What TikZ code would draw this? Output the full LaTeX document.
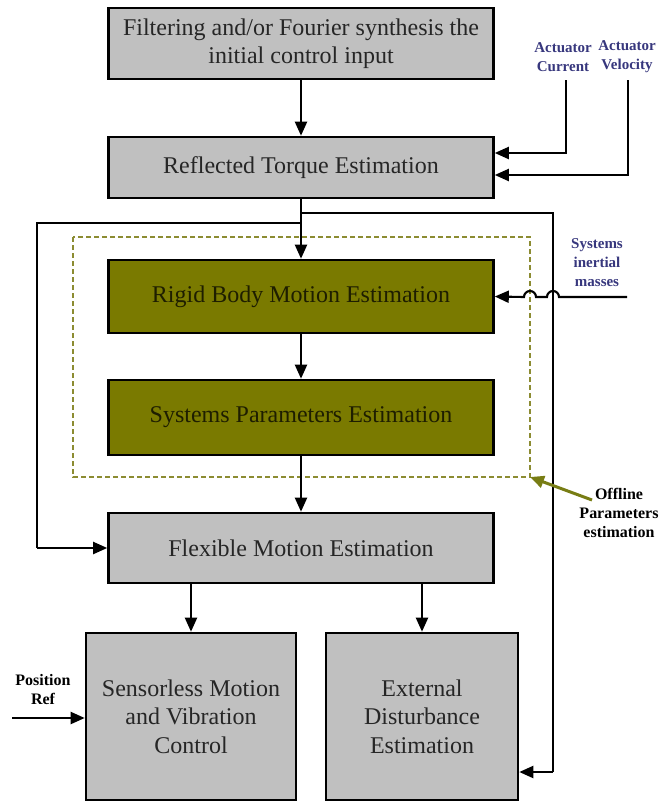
\documentclass[tikz,border=0pt]{standalone}
\usepackage{fontspec}
\setmainfont{Liberation Serif}
\usetikzlibrary{arrows.meta}
\definecolor{boxgray}{RGB}{192,192,192}
\definecolor{boxolive}{RGB}{122,122,0}
\definecolor{dashol}{RGB}{140,140,50}
\definecolor{lblblue}{RGB}{55,55,125}
\definecolor{arrol}{RGB}{120,125,20}
\definecolor{olivetext}{RGB}{30,30,0}
\tikzset{
  graybox/.style={draw=black, line width=2.6pt, fill=boxgray, rectangle, align=center,
    font=\fontsize{24}{28.5}\selectfont, inner sep=0pt, text=black!85},
  olivebox/.style={graybox, fill=boxolive, text=olivetext},
  conn/.style={draw=black, line width=2.1pt},
  arr/.style={conn, -{Triangle[length=14pt,width=12pt]}},
  bluelbl/.style={text=lblblue, font=\bfseries\fontsize{15}{19}\selectfont, align=center, inner sep=0pt},
  blklbl/.style={text=black, font=\bfseries\fontsize{16}{19}\selectfont, align=center, inner sep=0pt},
}
\begin{document}
\begin{tikzpicture}[x=1pt,y=-1pt]
\useasboundingbox (0,0) rectangle (661,801);
% boxes
\node[graybox, minimum width=385pt, minimum height=71pt] (b1) at (301,43.5) {Filtering and/or Fourier synthesis the\\initial control input};
\node[graybox, minimum width=385pt, minimum height=61pt] (b2) at (301,167.5) {Reflected Torque Estimation};
\node[olivebox, minimum width=385pt, minimum height=73pt] (rb) at (301,296.5) {Rigid Body Motion Estimation};
\node[olivebox, minimum width=385pt, minimum height=75pt] (sp) at (301,417.5) {Systems Parameters Estimation};
\node[graybox, minimum width=385pt, minimum height=70pt] (fm) at (301,548) {Flexible Motion Estimation};
\node[graybox, minimum width=210pt, minimum height=167pt] (sl) at (191,716.5) {Sensorless Motion\\and Vibration\\Control};
\node[graybox, minimum width=192pt, minimum height=167pt] (ed) at (422,716.5) {External\\Disturbance\\Estimation};
% dashed offline region
\draw[dashol, line width=2.3pt, dash pattern=on 5pt off 3pt] (73,237) rectangle (530,477);
\coordinate (dc) at (530,477);
% labels
\node[bluelbl] (ac) at (563,57) {Actuator\\Current};
\node[bluelbl] (av) at (627,57) {Actuator\\Velocity};
\node[bluelbl] (im) at (597,263) {Systems\\inertial\\masses};
\node[blklbl] (ol) at (619,513) {Offline\\Parameters\\estimation};
\node[blklbl] (pr) at (43,690) {Position\\Ref};
% coordinates
\coordinate (j1) at (301,213);
\coordinate (j2) at (301,223);
\coordinate (rr) at (553,213);
\coordinate (rrb) at (553,772);
\coordinate (ll) at (37,223);
\coordinate (llb) at (37,548);
\coordinate (acs) at (566,80);
\coordinate (acc) at (566,153);
\coordinate (avs) at (628,80);
\coordinate (avc) at (628,175);
\coordinate (ims) at (627,297);
\coordinate (prs) at (12,718);
\coordinate (ols) at (592,500);
% main flow
\draw[arr] (b1) -- (b2);
\draw[arr] (b2) -- (rb);
\draw[arr] (rb) -- (sp);
\draw[arr] (sp) -- (fm);
\draw[arr] (fm.south -| sl) -- (sl);
\draw[arr] (fm.south -| ed) -- (ed);
% loops
\draw[conn] (j1) -- (rr) -- (rrb);
\draw[arr] (rrb) -- (rrb -| ed.east);
\draw[conn] (j2) -- (ll) -- (llb);
\draw[arr] (llb) -- (fm.west);
% actuator inputs
\draw[arr] (acs) -- (acc) -- (acc -| b2.east);
\draw[arr] (avs) -- (avc) -- (avc -| b2.east);
% inertial masses with jumps
\draw[arr] (ims) -- (559,297) arc[start angle=0,end angle=180,radius=6pt] -- (536,297) arc[start angle=0,end angle=180,radius=6pt] -- (rb.east);
% position ref
\draw[arr] (prs) -- (prs -| sl.west);
% offline arrow
\draw[draw=arrol, line width=3pt, -{Triangle[length=14pt,width=12pt]}] (ols) -- (dc);
\end{tikzpicture}
\end{document}
